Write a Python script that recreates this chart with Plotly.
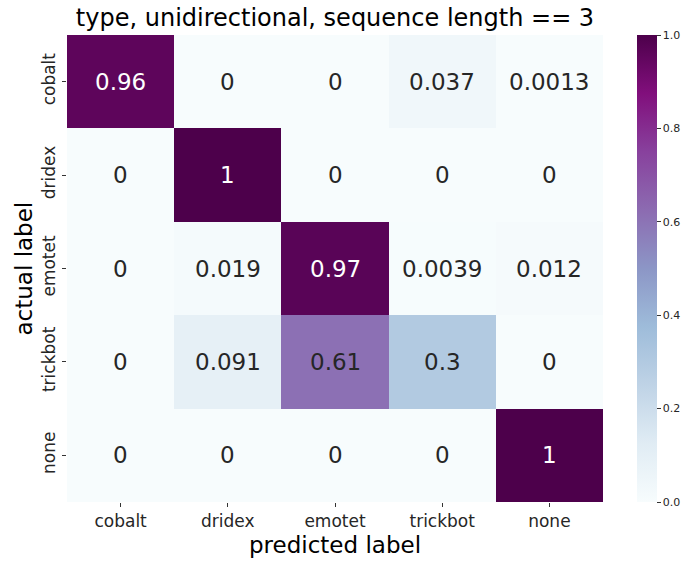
import plotly.graph_objects as go

labels = ["cobalt", "dridex", "emotet", "trickbot", "none"]
row_cobalt = [0.96, 0, 0, 0.037, 0.0013]
row_dridex = [0, 1, 0, 0, 0]
row_emotet = [0, 0.019, 0.97, 0.0039, 0.012]
row_trickbot = [0, 0.091, 0.61, 0.3, 0]
row_none = [0, 0, 0, 0, 1]
matrix = [row_cobalt, row_dridex, row_emotet, row_trickbot, row_none]
cbar_ticks = [0.0, 0.2, 0.4, 0.6, 0.8, 1.0]

title_text = "type, unidirectional, sequence length == 3"
FONT = "DejaVu Sans"

fig = go.Figure()
fig.add_trace(go.Heatmap(
    z=matrix, x=labels, y=labels,
    colorscale="BuPu", zmin=0, zmax=1,
    showscale=True,
    colorbar=dict(
        x=637 / 690, xanchor="left", xref="container", xpad=0, ypad=0,
        y=0.5, yanchor="middle", len=1, lenmode="fraction",
        thickness=20, outlinewidth=0,
        tickvals=cbar_ticks, tickformat=".1f",
        ticks="outside", ticklen=4, tickcolor="#333",
        tickfont=dict(family=FONT, size=11, color="#262626"),
    ),
    hoverinfo="skip",
))

annotations = []
for i, row in enumerate(matrix):
    for j, v in enumerate(row):
        txt = f"{v:.2g}"
        col = "white" if v >= 0.8 else "#262626"
        annotations.append(dict(
            x=labels[j], y=labels[i], text=txt, showarrow=False,
            font=dict(family=FONT, size=23, color=col),
            xref="x", yref="y",
        ))

annotations.append(dict(
    text="actual label", x=(23 - 67) / 536, y=0.5, xref="paper", yref="paper",
    showarrow=False, textangle=-90, xanchor="center", yanchor="middle",
    font=dict(family=FONT, size=23, color="black"),
))
annotations.append(dict(
    text="predicted label", x=0.5, y=(502 - 545) / 467, xref="paper", yref="paper",
    showarrow=False, xanchor="center", yanchor="middle",
    font=dict(family=FONT, size=23, color="black"),
))

fig.update_layout(
    width=690, height=561,
    margin=dict(l=67, r=87, t=35, b=59, autoexpand=False),
    paper_bgcolor="white", plot_bgcolor="white",
    annotations=annotations,
    title=dict(text=title_text, x=(67 + 603) / 2 / 690, xanchor="center",
               y=1 - 18 / 561, yanchor="middle",
               font=dict(family=FONT, size=24, color="black")),
    xaxis=dict(
        tickfont=dict(family=FONT, size=17, color="#262626"),
        ticks="outside", ticklen=4, tickcolor="#333", showgrid=False, zeroline=False,
    ),
    yaxis=dict(
        tickfont=dict(family=FONT, size=17, color="#262626"),
        tickangle=-90, autorange="reversed",
        ticks="outside", ticklen=4, tickcolor="#333", showgrid=False, zeroline=False,
    ),
)

fig.write_html("out.html")
